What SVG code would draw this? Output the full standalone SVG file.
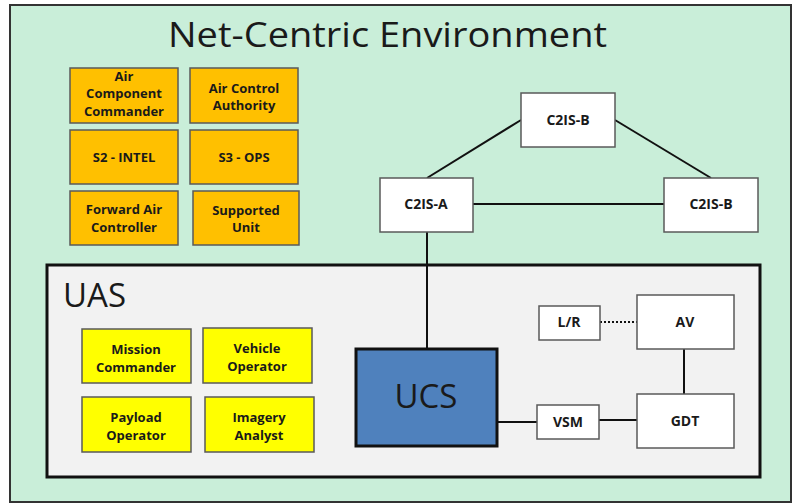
<svg xmlns="http://www.w3.org/2000/svg" width="794" height="504" viewBox="0 0 794 504">
  <style>
    .lbl { font-family: "Open Sans", "Noto Sans", "Liberation Sans", sans-serif; font-weight: bold; font-size: 13px; fill: #1a1a1a; text-anchor: middle; }
    .sys { font-size: 14px; }
    .big { font-family: "Open Sans", "Noto Sans", "Liberation Sans", sans-serif; fill: #1a1a1a; }
    .org { fill: #ffc000; stroke: #5a5a5a; stroke-width: 1.5; }
    .yel { fill: #ffff00; stroke: #5a5a5a; stroke-width: 1.5; }
    .wht { fill: #ffffff; stroke: #5a5a5a; stroke-width: 1.5; }
    .link { stroke: #111; stroke-width: 2; fill: none; }
  </style>

  <!-- Net-centric environment frame -->
  <g id="net-centric">
    <rect x="10" y="5" width="781" height="497" fill="#c9eed9" stroke="#333" stroke-width="2"/>
    <text class="big" x="168" y="47" font-size="34" textLength="439" lengthAdjust="spacingAndGlyphs">Net-Centric Environment</text>
  </g>

  <!-- UAS frame -->
  <g id="uas">
    <rect x="47" y="265" width="713" height="212" fill="#f2f2f2" stroke="#111" stroke-width="3"/>
    <text class="big" x="63" y="307" font-size="33">UAS</text>
  </g>

  <!-- Connectors -->
  <g id="connectors">
    <line class="link" x1="427" y1="178" x2="521" y2="120"/>
    <line class="link" x1="615" y1="120" x2="711" y2="178"/>
    <line class="link" x1="473" y1="204" x2="664" y2="204"/>
    <line class="link" x1="427" y1="232" x2="427" y2="349"/>
    <line class="link" x1="497" y1="422" x2="537" y2="422"/>
    <line class="link" x1="599" y1="420" x2="637" y2="420"/>
    <line class="link" x1="684" y1="349" x2="684" y2="394"/>
    <line class="link" x1="600" y1="322" x2="637" y2="322" stroke-dasharray="2 2"/>
  </g>

  <!-- Command roles -->
  <g id="air-component-commander">
    <rect class="org" x="70" y="68" width="108" height="55"/>
    <text class="lbl" x="124" y="81">Air</text>
    <text class="lbl" x="124" y="98">Component</text>
    <text class="lbl" x="124" y="116">Commander</text>
  </g>
  <g id="air-control-authority">
    <rect class="org" x="190" y="68" width="108" height="55"/>
    <text class="lbl" x="244" y="93">Air Control</text>
    <text class="lbl" x="244" y="110">Authority</text>
  </g>
  <g id="s2-intel">
    <rect class="org" x="70" y="130" width="108" height="54"/>
    <text class="lbl" x="124" y="162">S2 - INTEL</text>
  </g>
  <g id="s3-ops">
    <rect class="org" x="190" y="130" width="108" height="54"/>
    <text class="lbl" x="244" y="162">S3 - OPS</text>
  </g>
  <g id="forward-air-controller">
    <rect class="org" x="70" y="191" width="108" height="54"/>
    <text class="lbl" x="124" y="214">Forward Air</text>
    <text class="lbl" x="124" y="232">Controller</text>
  </g>
  <g id="supported-unit">
    <rect class="org" x="193" y="191" width="106" height="54"/>
    <text class="lbl" x="246" y="215">Supported</text>
    <text class="lbl" x="246" y="232">Unit</text>
  </g>

  <!-- C2 information systems -->
  <g id="c2is-b-top">
    <rect class="wht" x="521" y="93" width="94" height="54"/>
    <text class="lbl sys" x="568" y="125">C2IS-B</text>
  </g>
  <g id="c2is-a">
    <rect class="wht" x="380" y="178" width="93" height="54"/>
    <text class="lbl sys" x="426" y="209">C2IS-A</text>
  </g>
  <g id="c2is-b-right">
    <rect class="wht" x="664" y="178" width="94" height="54"/>
    <text class="lbl sys" x="711" y="209">C2IS-B</text>
  </g>

  <!-- UAS crew -->
  <g id="mission-commander">
    <rect class="yel" x="82" y="329" width="109" height="54"/>
    <text class="lbl" x="136" y="354">Mission</text>
    <text class="lbl" x="136" y="372">Commander</text>
  </g>
  <g id="vehicle-operator">
    <rect class="yel" x="203" y="328" width="109" height="55"/>
    <text class="lbl" x="257" y="353">Vehicle</text>
    <text class="lbl" x="257" y="371">Operator</text>
  </g>
  <g id="payload-operator">
    <rect class="yel" x="82" y="397" width="109" height="55"/>
    <text class="lbl" x="136" y="422">Payload</text>
    <text class="lbl" x="136" y="440">Operator</text>
  </g>
  <g id="imagery-analyst">
    <rect class="yel" x="205" y="397" width="109" height="55"/>
    <text class="lbl" x="259" y="422">Imagery</text>
    <text class="lbl" x="259" y="440">Analyst</text>
  </g>

  <!-- UAS components -->
  <g id="ucs">
    <rect x="356" y="349" width="141" height="97" fill="#4f81bd" stroke="#111" stroke-width="3"/>
    <text class="big" x="426" y="408" font-size="33" text-anchor="middle">UCS</text>
  </g>
  <g id="lr">
    <rect class="wht" x="539" y="306" width="61" height="34"/>
    <text class="lbl sys" x="569" y="327">L/R</text>
  </g>
  <g id="av">
    <rect class="wht" x="637" y="295" width="97" height="54"/>
    <text class="lbl sys" x="685" y="327">AV</text>
  </g>
  <g id="vsm">
    <rect class="wht" x="537" y="405" width="62" height="34"/>
    <text class="lbl sys" x="568" y="427">VSM</text>
  </g>
  <g id="gdt">
    <rect class="wht" x="637" y="394" width="97" height="54"/>
    <text class="lbl sys" x="685" y="426">GDT</text>
  </g>
</svg>
